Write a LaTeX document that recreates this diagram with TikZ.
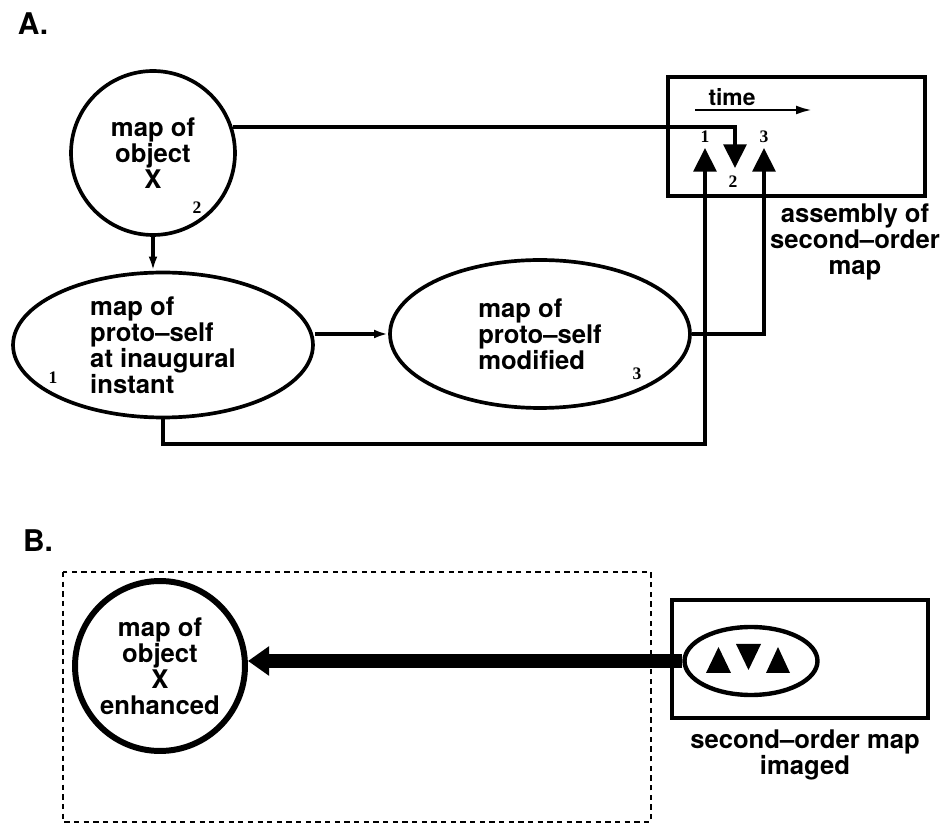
\documentclass[tikz,border=0pt]{standalone}
\usepackage{fontspec}
\setmainfont{TeX Gyre Heros}
\newfontfamily\numfont{Liberation Serif}
\usetikzlibrary{arrows.meta,shapes.geometric}

\begin{document}
\begin{tikzpicture}[x=0.02cm, y=-0.02cm, line width=2.1pt,
    every node/.style={font=\bfseries\fontsize{14.6}{14.8}\selectfont, align=center},
    mapcirc/.style={draw, circle, inner sep=0pt, minimum size=3.28cm},
    mapell/.style={draw, ellipse, inner sep=0pt, align=left, minimum width=6cm},
    num/.style={font=\numfont\bfseries\fontsize{10}{10}\selectfont, inner sep=0pt},
    panel/.style={font=\bfseries\fontsize{17}{18}\selectfont},
    conn/.style={-{Latex[length=8pt,width=5pt]}},
    bigtip/.style={-{Triangle[length=13.5pt,width=13pt]}}]

    \useasboundingbox (0,0) rectangle (941,827);

    % panel A
    \node[panel] (lblA) at (33,24) {A.};
    \node[mapcirc] (objx) at (153,153) {map of\\object\\X};
    \node[num] (n2) at (197,208) {2};
    \node[mapell, minimum height=2.9cm] (proto1) at (163,345) {map of\\proto--self\\at inaugural\\instant};
    \node[num] (n1) at (53,378) {1};
    \node[mapell, minimum height=2.96cm] (proto2) at (540,334) {map of\\proto--self\\modified};
    \node[num] (n3) at (637,374) {3};

    % assembly box
    \node[draw, inner sep=0pt, minimum width=5.14cm, minimum height=2.38cm] (asmbox) at (796.5,136.5) {};
    \node[font=\bfseries\fontsize{13}{14}\selectfont] (timelbl) at (732,97) {time};
    \coordinate (tstart) at (695,110);
    \coordinate (tend) at (812,110);
    \draw[line width=1.4pt, -{Latex[length=9pt,width=5pt]}] (tstart) -- (tend);
    \coordinate (tip1) at (705,148);
    \coordinate (tip2) at (735,168);
    \coordinate (tip3) at (764,148);
    \node[num] (s1) at (705,137) {1};
    \node[num] (s2) at (733,182) {2};
    \node[num] (s3) at (764,137) {3};
    \node (asmlbl) at (855,242) {assembly of\\second--order\\map};

    % connectors
    \draw[conn] (objx.south) -- (objx.south |- proto1.north);
    \draw[conn] (proto1.east |- proto2.west) -- (proto2.west);
    \draw[bigtip] (objx.18) -| (tip2);
    \draw[bigtip] (proto1.south) -- ++(0,25) -| (tip1);
    \draw[bigtip] (proto2.east) -| (tip3);

    % panel B
    \node[panel] (lblB) at (38,541) {B.};
    \draw[line width=1.6pt, dash pattern=on 3pt off 2.5pt] (63,572) rectangle (651,822);
    \node[mapcirc, line width=3.4pt, minimum size=3.4cm] (objxe) at (160,666) {map of\\object\\X\\enhanced};
    \node[draw, inner sep=0pt, minimum width=5.12cm, minimum height=2.36cm] (imgbox) at (800,659) {};
    \node[draw, ellipse, line width=2.5pt, inner sep=0pt, minimum width=2.66cm, minimum height=1.36cm] (imgell) at (751,661) {};
    \fill (706,673) -- (731,673) -- (718.5,647) -- cycle;
    \fill (736,644) -- (761,644) -- (748.5,670) -- cycle;
    \fill (766,673) -- (790,673) -- (778,647) -- cycle;
    \node (imglbl) at (805,755) {second--order map\\imaged};
    \draw[line width=8.5pt, -{Triangle[length=12pt,width=16pt]}] (imgell.west) -- (imgell.west -| objxe.east);

\end{tikzpicture}
\end{document}
